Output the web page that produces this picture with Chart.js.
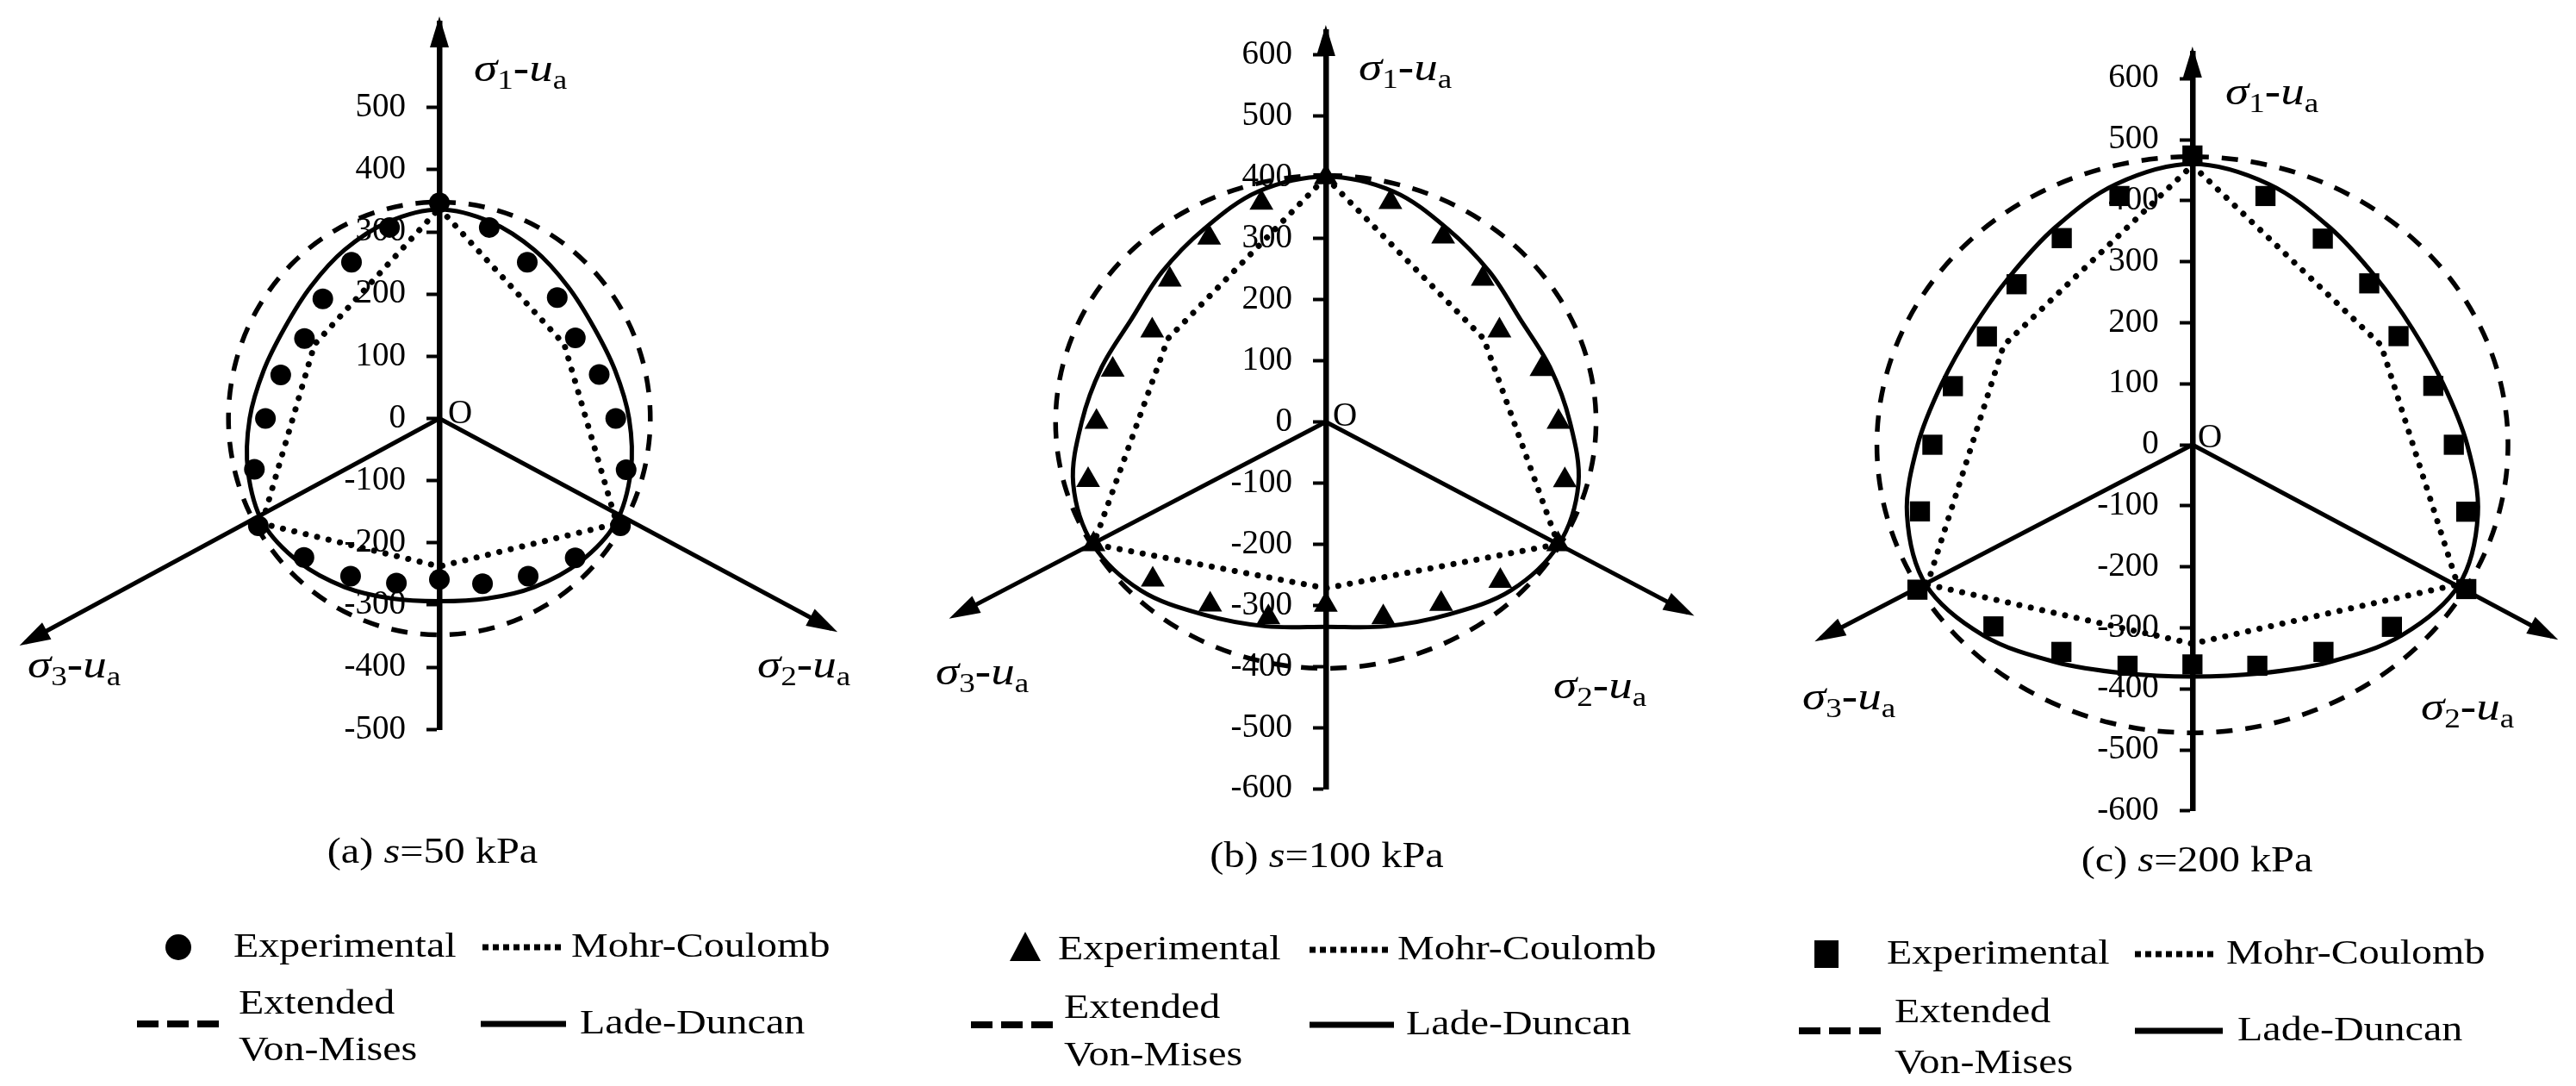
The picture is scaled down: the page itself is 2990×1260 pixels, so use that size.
<!DOCTYPE html><html><head>
<meta charset="utf-8">
<title>Failure criteria in the deviatoric plane</title>
<style>
  body { margin: 0; background: #fff; width: 2990px; height: 1260px; overflow: hidden; position: relative; }
  canvas { position: absolute; left: -200px; top: -200px; }
</style>
</head>
<body>
<canvas id="pa" width="3600" height="1660"></canvas>
<canvas id="pb" width="3600" height="1660"></canvas>
<canvas id="pc" width="3600" height="1660"></canvas>
<script src="https://cdn.jsdelivr.net/npm/chart.js"></script>
<script>
// ---- values (kPa) ----
// Lode angle of every sample, counted from the horizontal, sigma1 meridian at 90
const lodeAngles = [90, 75, 60, 45, 30, 15, 0, -15, -30, -45, -60, -75, -90, -105, -120, -135, -150, -165, -180, -195, -210, -225, -240, -255];

// experimental radii
const expA = [347, 318, 290, 275, 259, 273, 291, 319, 345, 317, 293, 275, 259, 274, 293, 316, 345, 316, 287, 271, 257, 272, 290, 318];
const expB = [400, 372, 350, 331, 299, 333, 347, 369, 400, 368, 344, 331, 299, 331, 345, 365, 400, 367, 342, 329, 299, 329, 348, 371];
const expC = [474, 422, 390, 374, 356, 373, 391, 424, 473, 422, 392, 375, 360, 375, 392, 421, 475, 422, 389, 371, 355, 372, 391, 422];

// Lade-Duncan radii
const ladeA = [336, 327, 313, 300, 294, 300, 313, 327, 336, 327, 313, 300, 294, 300, 313, 327, 336, 327, 313, 300, 294, 300, 313, 327];
const ladeB = [401, 390, 364, 346, 335, 346, 364, 390, 401, 390, 364, 346, 335, 346, 364, 390, 401, 390, 364, 346, 335, 346, 364, 390];
const ladeC = [460, 442, 411, 388, 380, 388, 411, 442, 460, 442, 411, 388, 380, 388, 411, 442, 460, 442, 411, 388, 380, 388, 411, 442];

// Mohr-Coulomb hexagon corners
const mohrAngles = [90, 30, -30, -90, -150, -210, -270];
const mohrA = [338, 238, 338, 238, 338, 238, 338];
const mohrB = [400, 272, 400, 272, 400, 272, 400];
const mohrC = [458, 326, 458, 326, 458, 326, 458];

// extended Von-Mises circle radius, per panel
const misesRadius = [348, 403, 472];

const ticksA = [-500, -400, -300, -200, -100, 0, 100, 200, 300, 400, 500];
const ticksBC = [-600, -500, -400, -300, -200, -100, 0, 100, 200, 300, 400, 500, 600];

const suction = [50, 100, 200];
const panelTags = ['(a)', '(b)', '(c)'];

// ---- layout ----
const OX = 200, OY = 200, CH = 1660;
const SERIF = '"Liberation Serif", "Times New Roman", serif';

const panels = [
  { canvas: 'pa', ox: 510, oy: 485.5, pyu: 0.7215, stretch: 0.975, yMin: -500, yTip: 19, ticks: ticksA,
    exp: expA, lade: ladeA, mohr: mohrA, mises: misesRadius[0], tag: panelTags[0], s: suction[0],
    marker: 'circle', markerR: 12, arms: [[-27.6, 730], [207.8, 772]],
    sig1: [550, 94], sig2: [879, 786], sig3: [32, 786], o: [520, 491], title: [502, 1001],
    legend: { mx: 207, row1: 1099, ext: 1165, vm: 1219, row2: 1188, expX: 271, dotX: [560, 654], mcX: 663,
              dashX: [159, 255], extX: 277, vmX: 277, solX: [558, 657], ldX: 673 } },
  { canvas: 'pb', ox: 1538.9, oy: 489.5, pyu: 0.7095, stretch: 1.097, yMin: -600, yTip: 29, ticks: ticksBC,
    exp: expB, lade: ladeB, mohr: mohrB, mises: misesRadius[1], tag: panelTags[1], s: suction[1],
    marker: 'triangle', markerR: 16, arms: [[-30, 624], [209.8, 637]],
    sig1: [1577, 93], sig2: [1803, 810], sig3: [1086, 794], o: [1547, 494], title: [1540, 1006],
    legend: { mx: 1190, row1: 1102, ext: 1170, vm: 1225, row2: 1189, expX: 1228, dotX: [1520, 1615], mcX: 1622,
              dashX: [1127, 1226], extX: 1235, vmX: 1235, solX: [1520, 1618], ldX: 1632 } },
  { canvas: 'pc', ox: 2544.8, oy: 516, pyu: 0.708, stretch: 1.096, yMin: -600, yTip: 54, ticks: ticksBC,
    exp: expC, lade: ladeC, mohr: mohrC, mises: misesRadius[2], tag: panelTags[2], s: suction[2],
    marker: 'rect', markerR: 16.5, arms: [[-30.3, 623], [209.7, 640]],
    sig1: [2583, 121], sig2: [2810, 835], sig3: [2092, 823], o: [2551, 519], title: [2550, 1011],
    legend: { mx: 2120, row1: 1107, ext: 1175, vm: 1234, row2: 1196, expX: 2190, dotX: [2478, 2574], mcX: 2584,
              dashX: [2088, 2183], extX: 2199, vmX: 2199, solX: [2478, 2580], ldX: 2597 } }
];

function polar(r, deg) {
  const t = deg * Math.PI / 180;
  return { x: r * Math.cos(t), y: r * Math.sin(t) };
}

// closed curve: one extra point before and two after so the spline is smooth where it closes
function closedLoop(angles, radii) {
  const n = angles.length;
  const pts = [polar(radii[n - 1], angles[n - 1] + 360)];
  for (let i = 0; i < n; i++) pts.push(polar(radii[i], angles[i]));
  pts.push(polar(radii[0], angles[0] - 360), polar(radii[1], angles[1] - 360));
  return pts;
}
const hideWrap = n => c => (c.p0DataIndex === 0 || c.p0DataIndex === n + 1) ? 'rgba(0,0,0,0)' : undefined;

function arrowHead(ctx, x, y, ux, uy) {
  const tx = x + ux * 8, ty = y + uy * 8;
  const bx = tx - ux * 36, by = ty - uy * 36;
  const nx = -uy, ny = ux;
  ctx.beginPath();
  ctx.moveTo(tx, ty);
  ctx.lineTo(bx + nx * 11, by + ny * 11);
  ctx.lineTo(bx - nx * 11, by - ny * 11);
  ctx.closePath();
  ctx.fill();
}

function textRuns(ctx, x, y, parts, sx, align) {
  ctx.save();
  let w = 0;
  parts.forEach(p => { ctx.font = p[1]; w += ctx.measureText(p[0]).width; });
  ctx.translate(align === 'center' ? x - w * sx / 2 : x, y);
  ctx.scale(sx, 1);
  let cx = 0;
  parts.forEach(p => { ctx.font = p[1]; ctx.fillText(p[0], cx, p[2] || 0); cx += ctx.measureText(p[0]).width; });
  ctx.restore();
}

function sigmaLabel(ctx, x, y, sub) {
  textRuns(ctx, x, y, [
    ['σ', 'italic 46px ' + SERIF], [sub, '31px ' + SERIF, 9], ['-', 'bold 46px ' + SERIF],
    ['u', 'italic 46px ' + SERIF], ['a', '31px ' + SERIF, 9]
  ], 1.2);
}

function legendMarker(ctx, style, x, y) {
  ctx.beginPath();
  if (style === 'circle') {
    ctx.arc(x, y, 15, 0, Math.PI * 2);
  } else if (style === 'triangle') {
    ctx.moveTo(x, y - 21); ctx.lineTo(x + 18, y + 13); ctx.lineTo(x - 18, y + 13); ctx.closePath();
  } else {
    ctx.rect(x - 14, y - 16, 28, 32);
  }
  ctx.fill();
}

function legendLine(ctx, x0, x1, y, width, dash, cap) {
  ctx.save();
  ctx.lineWidth = width; ctx.setLineDash(dash); ctx.lineCap = cap;
  ctx.beginPath(); ctx.moveTo(x0, y); ctx.lineTo(x1, y); ctx.stroke();
  ctx.restore();
}

function extras(P) {
  return {
    id: 'extras',
    afterDatasetsDraw(chart) {
      const ctx = chart.ctx, xs = chart.scales.x, ys = chart.scales.y;
      const ox = xs.getPixelForValue(0), oy = ys.getPixelForValue(0);
      ctx.save();
      ctx.fillStyle = '#000'; ctx.strokeStyle = '#000';
      // arrow heads
      arrowHead(ctx, ox, chart.chartArea.top, 0, -1);
      P.arms.forEach(([ang, len]) => {
        const t = polar(len, ang);
        const px = xs.getPixelForValue(t.x), py = ys.getPixelForValue(t.y);
        const L = Math.hypot(px - ox, py - oy);
        arrowHead(ctx, px, py, (px - ox) / L, (py - oy) / L);
      });
      // axis names
      ctx.textBaseline = 'alphabetic'; ctx.textAlign = 'left';
      sigmaLabel(ctx, P.sig1[0] + OX, P.sig1[1] + OY, '1');
      sigmaLabel(ctx, P.sig2[0] + OX, P.sig2[1] + OY, '2');
      sigmaLabel(ctx, P.sig3[0] + OX, P.sig3[1] + OY, '3');
      ctx.font = '39px ' + SERIF;
      ctx.fillText('O', P.o[0] + OX, P.o[1] + OY);
      // panel title
      textRuns(ctx, P.title[0] + OX, P.title[1] + OY, [
        [P.tag + ' ', '42px ' + SERIF], ['s', 'italic 42px ' + SERIF], ['=' + P.s + ' kPa', '42px ' + SERIF]
      ], 1.15, 'center');
      // legend
      const G = P.legend;
      ctx.textBaseline = 'middle';
      const lf = '40px ' + SERIF;
      legendMarker(ctx, P.marker, G.mx + OX, G.row1 + OY);
      textRuns(ctx, G.expX + OX, G.row1 + OY, [['Experimental', lf]], 1.2);
      legendLine(ctx, G.dotX[0] + OX, G.dotX[1] + OX, G.row1 + OY, 7, [7, 5], 'butt');
      textRuns(ctx, G.mcX + OX, G.row1 + OY, [['Mohr-Coulomb', lf]], 1.2);
      legendLine(ctx, G.dashX[0] + OX, G.dashX[1] + OX, G.row2 + OY, 8, [25, 10], 'butt');
      textRuns(ctx, G.extX + OX, G.ext + OY, [['Extended', lf]], 1.2);
      textRuns(ctx, G.vmX + OX, G.vm + OY, [['Von-Mises', lf]], 1.2);
      legendLine(ctx, G.solX[0] + OX, G.solX[1] + OX, G.row2 + OY, 7, [], 'butt');
      textRuns(ctx, G.ldX + OX, G.row2 + OY, [['Lade-Duncan', lf]], 1.2);
      ctx.restore();
    }
  };
}

panels.forEach(P => {
  const n = lodeAngles.length;
  const wantTop = P.yTip + 8 + OY;
  const wantBottom = P.oy - P.yMin * P.pyu + OY;
  const yMax = (P.oy - (P.yTip + 8)) / P.pyu;

  const datasets = [
    { label: 'Experimental', data: lodeAngles.map((a, i) => polar(P.exp[i], a)), showLine: false,
      pointStyle: P.marker, pointRadius: P.markerR, backgroundColor: '#000', borderColor: '#000', borderWidth: 0 },
    { label: 'Lade-Duncan', data: closedLoop(lodeAngles, P.lade), showLine: true, pointRadius: 0,
      borderColor: '#000', borderWidth: 5, tension: 0.34, segment: { borderColor: hideWrap(n) } },
    { label: 'Extended Von-Mises', data: closedLoop(lodeAngles, lodeAngles.map(() => P.mises)), showLine: true,
      pointRadius: 0, borderColor: '#000', borderWidth: 5.5, borderDash: [19, 15], tension: 0.34,
      segment: { borderColor: hideWrap(n) } },
    { label: 'Mohr-Coulomb', data: mohrAngles.map((a, i) => polar(P.mohr[i], a)), showLine: true, pointRadius: 0,
      borderColor: '#000', borderWidth: 7, borderDash: [0.1, 13.5], borderCapStyle: 'round', tension: 0 }
  ];
  P.arms.forEach(([ang, len]) => {
    datasets.push({ data: [{ x: 0, y: 0 }, polar(len, ang)], showLine: true, pointRadius: 0,
      borderColor: '#000', borderWidth: 5 });
  });

  const chart = new Chart(document.getElementById(P.canvas), {
    type: 'scatter',
    data: { datasets },
    options: {
      responsive: false,
      animation: false,
      devicePixelRatio: 1,
      events: [],
      layout: { padding: { top: wantTop, bottom: CH - wantBottom, left: 20, right: 20 } },
      elements: { line: { capBezierPoints: false }, point: { hitRadius: 0 } },
      datasets: { scatter: { clip: false } },
      plugins: { legend: { display: false }, tooltip: { enabled: false } },
      scales: {
        x: { type: 'linear', display: false, min: -1000, max: 1000 },
        y: {
          type: 'linear', position: { x: 0 }, min: P.yMin, max: yMax,
          afterBuildTicks: ax => { ax.ticks = P.ticks.map(v => ({ value: v })); },
          // the centred axis right-aligns labels on the axis line itself, an em space keeps them clear of it
          ticks: { color: '#000', font: { family: SERIF, size: 39 }, callback: v => String(v) + '\u2003' },
          grid: { drawOnChartArea: false, drawTicks: true, tickLength: 12, tickWidth: 4, tickColor: '#000' },
          border: { display: true, color: '#000', width: 6.5 }
        }
      }
    },
    plugins: [extras(P)]
  });

  // pin the plot area to the figure's pixels, then set the x range for the panel's aspect
  let ca = chart.chartArea;
  chart.options.layout.padding = {
    top: wantTop + (wantTop - ca.top), bottom: (CH - wantBottom) + (ca.bottom - wantBottom), left: 20, right: 20
  };
  chart.update('none');
  ca = chart.chartArea;
  const pxu = P.pyu * P.stretch;
  chart.options.scales.x.min = (ca.left - (P.ox + OX)) / pxu;
  chart.options.scales.x.max = (ca.right - (P.ox + OX)) / pxu;
  chart.update('none');
});
</script>
</body></html>
